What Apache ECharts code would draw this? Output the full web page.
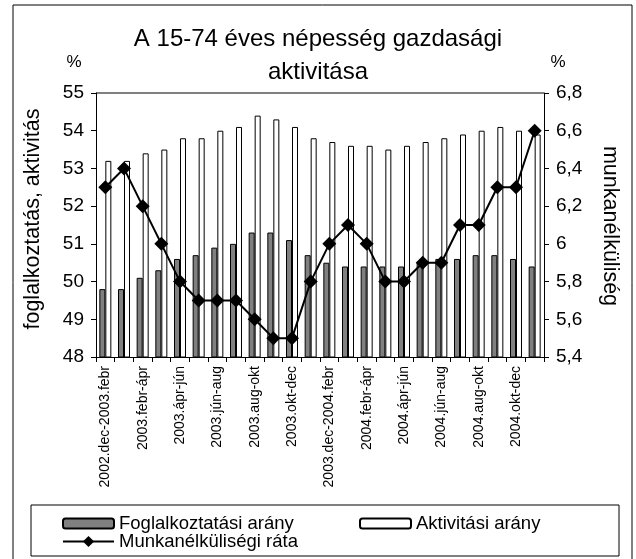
<!DOCTYPE html>
<html>
<head>
<meta charset="utf-8">
<script src="https://cdn.jsdelivr.net/npm/echarts@6/dist/echarts.min.js"></script>
<style>
  html, body { margin: 0; padding: 0; background: #fff; }
  #chart { width: 636px; height: 559px; }
</style>
</head>
<body>
<div id="chart"></div>
<script>
// periods (3 month moving windows)
const periods = [
  '2002.dec-2003.febr', '2003.jan-márc', '2003.febr-ápr', '2003.márc-máj',
  '2003.ápr-jún', '2003.máj-júl', '2003.jún-aug', '2003.júl-szept',
  '2003.aug-okt', '2003.szept-nov', '2003.okt-dec', '2003.nov-2004.jan',
  '2003.dec-2004.febr', '2004.jan-márc', '2004.febr-ápr', '2004.márc-máj',
  '2004.ápr-jún', '2004.máj-júl', '2004.jún-aug', '2004.júl-szept',
  '2004.aug-okt', '2004.szept-nov', '2004.okt-dec', '2004.nov-2005.jan'
];
const foglalkoztatas = [49.8, 49.8, 50.1, 50.3, 50.6, 50.7, 50.9, 51.0, 51.3, 51.3, 51.1, 50.7,
  50.5, 50.4, 50.4, 50.4, 50.4, 50.5, 50.6, 50.6, 50.7, 50.7, 50.6, 50.4];
const aktivitas = [53.2, 53.2, 53.4, 53.5, 53.8, 53.8, 54.0, 54.1, 54.4, 54.3, 54.1, 53.8,
  53.7, 53.6, 53.6, 53.5, 53.6, 53.7, 53.8, 53.9, 54.0, 54.1, 54.0, 53.9];
const munkanelkuliseg = [6.3, 6.4, 6.2, 6.0, 5.8, 5.7, 5.7, 5.7, 5.6, 5.5, 5.5, 5.8,
  6.0, 6.1, 6.0, 5.8, 5.8, 5.9, 5.9, 6.1, 6.1, 6.3, 6.3, 6.6];

const FONT = 'Liberation Sans, Arial, sans-serif';
let chart = echarts.init(document.getElementById('chart'));

const option = {
  backgroundColor: '#fff',
  animation: false,
  textStyle: { fontFamily: FONT, color: '#000' },
  title: {
    text: 'A 15-74 éves népesség gazdasági\naktivitása',
    left: 'center',
    top: 18,
    textStyle: { fontSize: 24, fontWeight: 'normal', lineHeight: 33, fontFamily: FONT, color: '#000' }
  },
  legend: [
    {
      data: ['Foglalkoztatási arány'],
      left: 57, top: 509,
      itemWidth: 51, itemHeight: 10,
      textStyle: { fontSize: 18.5, fontFamily: FONT, color: '#000' }
    },
    {
      data: ['Aktivitási arány'],
      left: 354, top: 509,
      itemWidth: 51, itemHeight: 10,
      textStyle: { fontSize: 18.5, fontFamily: FONT, color: '#000' }
    },
    {
      data: ['Munkanélküliségi ráta'],
      left: 57, top: 527,
      itemWidth: 51, itemHeight: 14,
      textStyle: { fontSize: 18.5, fontFamily: FONT, color: '#000' }
    }
  ],
  grid: { left: 96, right: 92, top: 93, bottom: 202 },
  xAxis: {
    type: 'category',
    data: periods,
    axisLine: { lineStyle: { color: '#000', width: 1 } },
    axisTick: { show: true, interval: 0, length: 5, lineStyle: { color: '#000' } },
    axisLabel: { interval: 1, rotate: 90, fontSize: 14, color: '#000', fontFamily: FONT, margin: 9 },
    splitLine: { show: false }
  },
  yAxis: [
    {
      type: 'value', min: 48, max: 55, interval: 1,
      axisLine: { show: true, lineStyle: { color: '#000' } },
      axisTick: { show: true, length: 5, lineStyle: { color: '#000' } },
      axisLabel: { fontSize: 19, color: '#000', margin: 12, fontFamily: FONT },
      splitLine: { show: false }
    },
    {
      type: 'value', min: 5.4, max: 6.8, interval: 0.2,
      axisLine: { show: true, lineStyle: { color: '#000' } },
      axisTick: { show: true, length: 5, lineStyle: { color: '#000' } },
      axisLabel: {
        fontSize: 19, color: '#000', margin: 12, fontFamily: FONT,
        formatter: v => String(Math.round(v * 10) / 10).replace('.', ',')
      },
      splitLine: { show: false }
    }
  ],
  graphic: [
    // outer frame
    { type: 'rect', shape: { x: 13, y: 5, width: 619, height: 570 }, style: { fill: 'none', stroke: '#000', lineWidth: 1 }, z: -1 },
    // top border of plot area
    { type: 'line', shape: { x1: 96, y1: 93, x2: 544, y2: 93 }, style: { stroke: '#808080', lineWidth: 2 } },
    // legend box
    { type: 'rect', shape: { x: 32, y: 506, width: 586, height: 49 }, style: { fill: '#fff' }, z: 1 },
    { type: 'line', shape: { x1: 31, y1: 505, x2: 619, y2: 505 }, style: { stroke: '#808080', lineWidth: 2 }, z: 2 },
    { type: 'line', shape: { x1: 31, y1: 556, x2: 619, y2: 556 }, style: { stroke: '#808080', lineWidth: 2 }, z: 2 },
    { type: 'line', shape: { x1: 31, y1: 505, x2: 31, y2: 556 }, style: { stroke: '#000', lineWidth: 1 }, z: 2 },
    { type: 'line', shape: { x1: 619, y1: 505, x2: 619, y2: 556 }, style: { stroke: '#000', lineWidth: 1 }, z: 2 },
    // axis units
    { type: 'text', x: 74, y: 62, style: { text: '%', fontSize: 17, fontFamily: FONT, fill: '#000', textAlign: 'center', textVerticalAlign: 'middle' } },
    { type: 'text', x: 558, y: 62, style: { text: '%', fontSize: 17, fontFamily: FONT, fill: '#000', textAlign: 'center', textVerticalAlign: 'middle' } },
    // axis names
    { type: 'text', x: 33, y: 219, rotation: Math.PI / 2, style: { text: 'foglalkoztatás, aktivitás', fontSize: 21.5, fontFamily: FONT, fill: '#000', textAlign: 'center', textVerticalAlign: 'middle' } },
    { type: 'text', x: 610, y: 226, rotation: -Math.PI / 2, style: { text: 'munkanélküliség', fontSize: 21.5, fontFamily: FONT, fill: '#000', textAlign: 'center', textVerticalAlign: 'middle' } }
  ],
  series: [
    {
      name: 'Foglalkoztatási arány',
      type: 'bar',
      data: foglalkoztatas,
      barWidth: 6,
      barGap: '0%',
      itemStyle: { color: '#808080', borderColor: '#000', borderWidth: 1 }
    },
    {
      name: 'Aktivitási arány',
      type: 'bar',
      data: aktivitas,
      barWidth: 6,
      itemStyle: { color: '#fff', borderColor: '#000', borderWidth: 1 }
    },
    {
      name: 'Munkanélküliségi ráta',
      type: 'line',
      yAxisIndex: 1,
      data: munkanelkuliseg,
      symbol: 'diamond',
      symbolSize: [14, 14],
      showAllSymbol: true,
      lineStyle: { color: '#000', width: 2 },
      itemStyle: { color: '#000' },
      z: 5
    }
  ]
};

chart.setOption(option);
</script>
</body>
</html>
